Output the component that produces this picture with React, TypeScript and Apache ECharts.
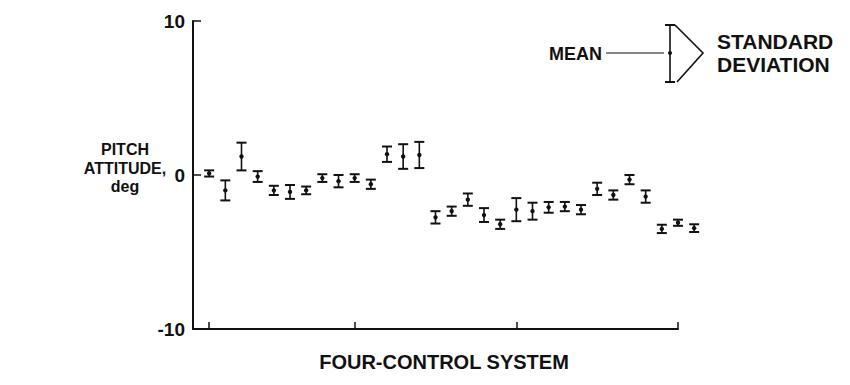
import React, { useEffect, useRef } from "react";
import * as echarts from "echarts";

const runs = [1, 2, 3, 4, 5, 6, 7, 8, 9, 10, 11, 12, 13, 14, 15, 16, 17, 18, 19, 20, 21, 22, 23, 24, 25, 26, 27, 28, 29, 30, 31];
const means = [0.1, -1.0, 1.2, -0.1, -1.0, -1.1, -1.0, -0.2, -0.4, -0.2, -0.6, 1.35, 1.2, 1.3, -2.75, -2.35, -1.6, -2.6, -3.2, -2.25, -2.35, -2.1, -2.05, -2.25, -0.9, -1.3, -0.3, -1.4, -3.5, -3.1, -3.45];
const sds = [0.2, 0.65, 0.9, 0.35, 0.3, 0.45, 0.25, 0.25, 0.4, 0.25, 0.3, 0.5, 0.8, 0.85, 0.4, 0.3, 0.4, 0.45, 0.3, 0.75, 0.55, 0.35, 0.3, 0.3, 0.4, 0.3, 0.3, 0.4, 0.27, 0.2, 0.25];
const xTickValues = [1, 10, 20, 30];
const yTicks = { min: -10, max: 10, interval: 10 };
const yTitle = "PITCH\nATTITUDE,\ndeg";
const xTitle = "FOUR-CONTROL SYSTEM";
const legendMean = "MEAN";
const legendSd = "STANDARD\nDEVIATION";

const INK = "#111";
const FONT = "'Liberation Sans', Arial, Helvetica, sans-serif";

export default function App() {
  const ref = useRef<HTMLDivElement>(null);
  useEffect(() => {
    document.body.style.margin = "0";
    const chart = echarts.init(ref.current!, null, { renderer: "svg" });
    const data = runs.map((r, i) => [r, means[i], sds[i]]);
    chart.setOption({
      animation: false,
      backgroundColor: "#fff",
      grid: { left: 193, right: 172, top: 21, bottom: 56 },
      xAxis: {
        type: "value",
        min: 0,
        max: 30,
        axisLine: { show: true, onZero: false, lineStyle: { color: INK, width: 2 } },
        axisTick: { show: true, inside: true, length: 7, customValues: xTickValues, lineStyle: { color: INK, width: 1.5 } },
        axisLabel: { show: false },
        splitLine: { show: false },
      },
      yAxis: {
        type: "value",
        min: yTicks.min,
        max: yTicks.max,
        interval: yTicks.interval,
        axisLine: { show: true, onZero: false, lineStyle: { color: INK, width: 2 } },
        axisTick: { show: true, inside: true, length: 8, lineStyle: { color: INK, width: 1.5 } },
        axisLabel: { color: INK, fontSize: 19, fontWeight: "bold", fontFamily: FONT, margin: 8 },
        splitLine: { show: false },
      },
      series: [
        {
          type: "custom",
          clip: false,
          data,
          renderItem: (params: any, api: any) => {
            const x = api.value(0);
            const m = api.value(1);
            const s = api.value(2);
            const top = api.coord([x, m + s]);
            const bot = api.coord([x, m - s]);
            const mid = api.coord([x, m]);
            const w = 5;
            const st = { stroke: INK, lineWidth: 2 };
            return {
              type: "group",
              children: [
                { type: "line", shape: { x1: top[0], y1: top[1], x2: bot[0], y2: bot[1] }, style: { stroke: INK, lineWidth: 1.6 } },
                { type: "line", shape: { x1: top[0] - w, y1: top[1], x2: top[0] + w, y2: top[1] }, style: st },
                { type: "line", shape: { x1: bot[0] - w, y1: bot[1], x2: bot[0] + w, y2: bot[1] }, style: st },
                { type: "circle", shape: { cx: mid[0], cy: mid[1], r: 2.2 }, style: { fill: INK } },
              ],
            };
          },
        },
      ],
      graphic: [
        {
          type: "text",
          x: 125,
          y: 168,
          style: { text: yTitle, fill: INK, font: `bold 16px ${FONT}`, align: "center", verticalAlign: "middle", lineHeight: 18.5 },
        },
        {
          type: "text",
          x: 444,
          y: 362,
          style: { text: xTitle, fill: INK, font: `bold 20px ${FONT}`, align: "center", verticalAlign: "middle" },
        },
        {
          type: "text",
          x: 602,
          y: 54,
          style: { text: legendMean, fill: INK, font: `bold 18px ${FONT}`, align: "right", verticalAlign: "middle" },
        },
        { type: "line", shape: { x1: 606, y1: 53, x2: 664, y2: 53 }, style: { stroke: INK, lineWidth: 1.2 } },
        { type: "line", shape: { x1: 670, y1: 25, x2: 670, y2: 82 }, style: { stroke: INK, lineWidth: 1.6 } },
        { type: "line", shape: { x1: 665, y1: 25, x2: 675, y2: 25 }, style: { stroke: INK, lineWidth: 2 } },
        { type: "line", shape: { x1: 665, y1: 82, x2: 675, y2: 82 }, style: { stroke: INK, lineWidth: 2 } },
        { type: "circle", shape: { cx: 670, cy: 53, r: 2 }, style: { fill: INK } },
        { type: "polyline", shape: { points: [[675, 25], [703, 53], [677, 82]] }, style: { stroke: INK, lineWidth: 1.6, fill: "none" } },
        {
          type: "text",
          x: 717,
          y: 53,
          style: { text: legendSd, fill: INK, font: `bold 21px ${FONT}`, align: "left", verticalAlign: "middle", lineHeight: 23 },
        },
      ],
    });
    return () => chart.dispose();
  }, []);
  return <div ref={ref} style={{ width: 850, height: 385 }} />;
}
